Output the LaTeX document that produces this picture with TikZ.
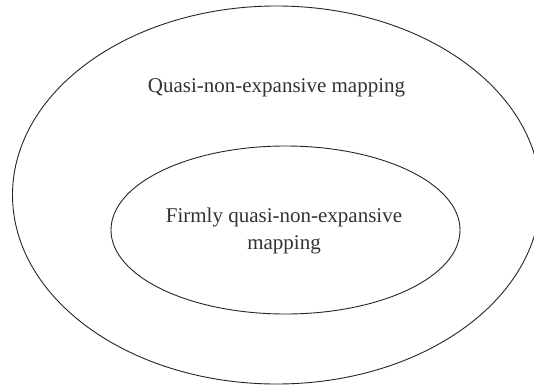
\documentclass[tikz,border=0pt]{standalone}
\usepackage{fontspec}
\setmainfont{Liberation Serif}
\usetikzlibrary{shapes.geometric}
\begin{document}
\begin{tikzpicture}[x=1pt,y=-1pt,
  setshape/.style={ellipse,draw=black!85,line width=0.9pt,inner sep=0pt,outer sep=0pt},
  lbl/.style={font=\fontsize{21}{27}\selectfont,text=black!80,align=center,inner sep=0pt}]
\useasboundingbox (0,0) rectangle (534,385);
\fill[white] (0,0) rectangle (534,385);
\node[setshape,minimum width=528pt,minimum height=378pt] (outer) at (276.5,195) {};
\node[setshape,minimum width=349pt,minimum height=168pt] (inner) at (285.5,230) {};
\node[lbl,anchor=base] (qne) at (276.5,92.5) {Quasi-non-expansive mapping};
\node[lbl,anchor=base] (fq1) at (284,222) {Firmly quasi-non-expansive};
\node[lbl,anchor=base] (fq2) at (284,249) {mapping};
\end{tikzpicture}
\end{document}
